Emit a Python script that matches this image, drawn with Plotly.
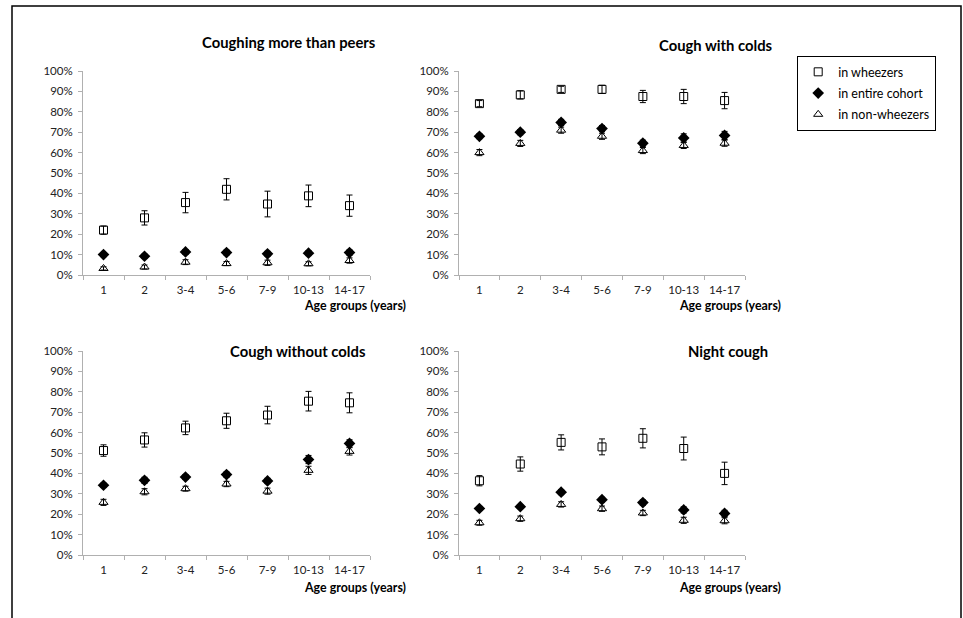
import plotly.graph_objects as go

W, H = 963, 618

categories = ["1", "2", "3-4", "5-6", "7-9", "10-13", "14-17"]
series_names = ["in wheezers", "in entire cohort", "in non-wheezers"]
panel_titles = ["Coughing more than peers", "Cough with colds", "Cough without colds", "Night cough"]
y_ticks = [0, 10, 20, 30, 40, 50, 60, 70, 80, 90, 100]
y_tick_labels = ["0%", "10%", "20%", "30%", "40%", "50%", "60%", "70%", "80%", "90%", "100%"]
x_title = "Age groups (years)"

# Coughing more than peers
peers_wheezers = [22, 28, 35.5, 42, 34.8, 38.8, 34]
peers_wheezers_err = [2, 3.5, 5, 5.2, 6.3, 5.3, 5.2]
peers_cohort = [10, 9.2, 11.3, 11, 10.4, 10.7, 11]
peers_cohort_err = [1, 1, 1.2, 1.2, 1.2, 1.2, 1.3]
peers_non = [3.2, 3.9, 6.3, 5.6, 6, 5.5, 7.1]
peers_non_err = [0.8, 1, 1.2, 1, 1.3, 1, 1.3]

# Cough with colds
colds_wheezers = [84, 88.3, 91, 91, 87.5, 87.5, 85.5]
colds_wheezers_err = [1.5, 2, 1.5, 2, 3, 3.5, 4]
colds_cohort = [68, 70, 74.8, 71.8, 64.6, 67.2, 68.4]
colds_cohort_err = [1.2, 1.3, 1.5, 1.5, 1.5, 2, 2]
colds_non = [60, 64.5, 71, 68, 61, 63.5, 64.6]
colds_non_err = [1.5, 1.5, 1.5, 1.5, 1.5, 1.5, 1.5]

# Cough without colds
without_wheezers = [51.2, 56.4, 62.3, 65.8, 68.6, 75.4, 74.6]
without_wheezers_err = [2.8, 3.5, 3.3, 3.7, 4.3, 4.8, 4.9]
without_cohort = [34.2, 36.6, 38.2, 39.4, 36.3, 46.8, 54.7]
without_cohort_err = [1, 1.5, 1.2, 1.3, 1.3, 2, 1.8]
without_non = [25.8, 31, 32.5, 34.8, 31.3, 41.5, 50.8]
without_non_err = [1.5, 1.5, 1.2, 1.3, 1.5, 2, 1.8]

# Night cough
night_wheezers = [36.4, 44.6, 55.2, 53, 57.2, 52.2, 40]
night_wheezers_err = [2.5, 3.5, 3.7, 3.9, 4.7, 5.6, 5.5]
night_cohort = [22.8, 23.7, 30.8, 27.1, 25.7, 22.1, 20.4]
night_cohort_err = [1, 1, 1.2, 1.2, 1.3, 1.5, 1.5]
night_non = [15.8, 17.8, 24.8, 22.7, 20.6, 17, 16.8]
night_non_err = [1.2, 1.3, 1.3, 1.3, 1.3, 1.5, 1.5]

panels = [
    [(peers_wheezers, peers_wheezers_err), (peers_cohort, peers_cohort_err), (peers_non, peers_non_err)],
    [(colds_wheezers, colds_wheezers_err), (colds_cohort, colds_cohort_err), (colds_non, colds_non_err)],
    [(without_wheezers, without_wheezers_err), (without_cohort, without_cohort_err), (without_non, without_non_err)],
    [(night_wheezers, night_wheezers_err), (night_cohort, night_cohort_err), (night_non, night_non_err)],
]

FONT = "Lato"
styles = [
    dict(symbol="square-open", size=8, color="black", line=dict(width=1, color="black")),
    dict(symbol="diamond", size=9, color="black", line=dict(width=0)),
    dict(symbol="triangle-up-open", size=8, color="black", line=dict(width=1, color="black")),
]

def px_x(p):
    return p / W

def px_y(p):
    return (H - p) / H

# axis pixel boxes: (x_left, x_right, y_bottom(0%), y_top(100%))
boxes = [
    (83, 370, 275, 71),
    (459, 745, 275, 71),
    (83, 370, 555, 351),
    (459, 745, 555, 351),
]

fig = go.Figure()
layout = {}
for i, (panel, box) in enumerate(zip(panels, boxes)):
    xa = "x" if i == 0 else f"x{i+1}"
    ya = "y" if i == 0 else f"y{i+1}"
    for j, (vals, errs) in enumerate(panel):
        fig.add_trace(go.Scatter(
            x=categories, y=vals, mode="markers", name=series_names[j],
            legendgroup=series_names[j], showlegend=(i == 0),
            marker=styles[j],
            error_y=dict(type="data", array=errs, visible=True, color="black", thickness=1, width=3),
            xaxis=xa, yaxis=ya, cliponaxis=False,
        ))
    xl, xr, yb, yt = box
    kx = "xaxis" if i == 0 else f"xaxis{i+1}"
    ky = "yaxis" if i == 0 else f"yaxis{i+1}"
    layout[kx] = dict(
        domain=[px_x(xl), px_x(xr)], anchor=ya, type="category",
        categoryorder="array", categoryarray=categories,
        range=[-0.5, 6.5], showline=True, linecolor="#b0b0b0", linewidth=1,
        ticks="outside", tickson="boundaries", ticklen=4, tickcolor="#b0b0b0",
        showgrid=False, zeroline=False, tickangle=0, automargin=False,
        ticklabelstandoff=4,
        tickfont=dict(family=FONT, size=11.5, color="#222"),
    )
    layout[ky] = dict(
        domain=[px_y(yb), px_y(yt)], anchor=xa, range=[0, 100],
        tickmode="array", tickvals=y_ticks, ticktext=y_tick_labels,
        showline=True, linecolor="#b0b0b0", linewidth=1, automargin=False,
        ticks="outside", ticklen=4, tickcolor="#b0b0b0", showgrid=False, zeroline=False,
        ticklabelstandoff=3,
        tickfont=dict(family=FONT, size=11.5, color="#222"),
    )

fig.update_layout(**layout)

annotations = []
title_pos = [(378, 42), (775, 45), (368, 351), (770, 351)]
for t, (x, y) in zip(panel_titles, title_pos):
    annotations.append(dict(text=f"<b>{t}</b>", x=px_x(x), y=px_y(y), xref="paper", yref="paper",
                            xanchor="right", yanchor="middle", showarrow=False,
                            font=dict(family=FONT, size=14.8, color="black")))
for (x, y) in [(408, 305), (783, 305), (408, 587), (783, 587)]:
    annotations.append(dict(text=f"<b>{x_title}</b>", x=px_x(x), y=px_y(y), xref="paper", yref="paper",
                            xanchor="right", yanchor="middle", showarrow=False,
                            font=dict(family=FONT, size=12.4, color="black")))

border = dict(type="path", xref="paper", yref="paper",
              path=f"M {px_x(12)},{px_y(620)} L {px_x(12)},{px_y(6)} L {px_x(961)},{px_y(6)} L {px_x(961)},{px_y(620)}",
              line=dict(color="black", width=1.5))

fig.update_layout(
    width=W, height=H, margin=dict(l=0, r=0, t=0, b=0),
    paper_bgcolor="white", plot_bgcolor="white",
    font=dict(family=FONT, color="black"),
    annotations=annotations, shapes=[border],
    showlegend=True,
    legend=dict(x=px_x(797), y=px_y(56), xanchor="left", yanchor="top",
                bordercolor="black", borderwidth=1.2, bgcolor="white",
                font=dict(family=FONT, size=12.5, color="black"),
                itemwidth=30, tracegroupgap=2),
)

css_js = (
    "var s=document.createElement('style');"
    "s.textContent='html,body{margin:0!important;padding:0!important;overflow:hidden!important;}';"
    "document.head.appendChild(s);"
)
fig.write_html("out.html", config={"displayModeBar": False}, post_script=css_js)
